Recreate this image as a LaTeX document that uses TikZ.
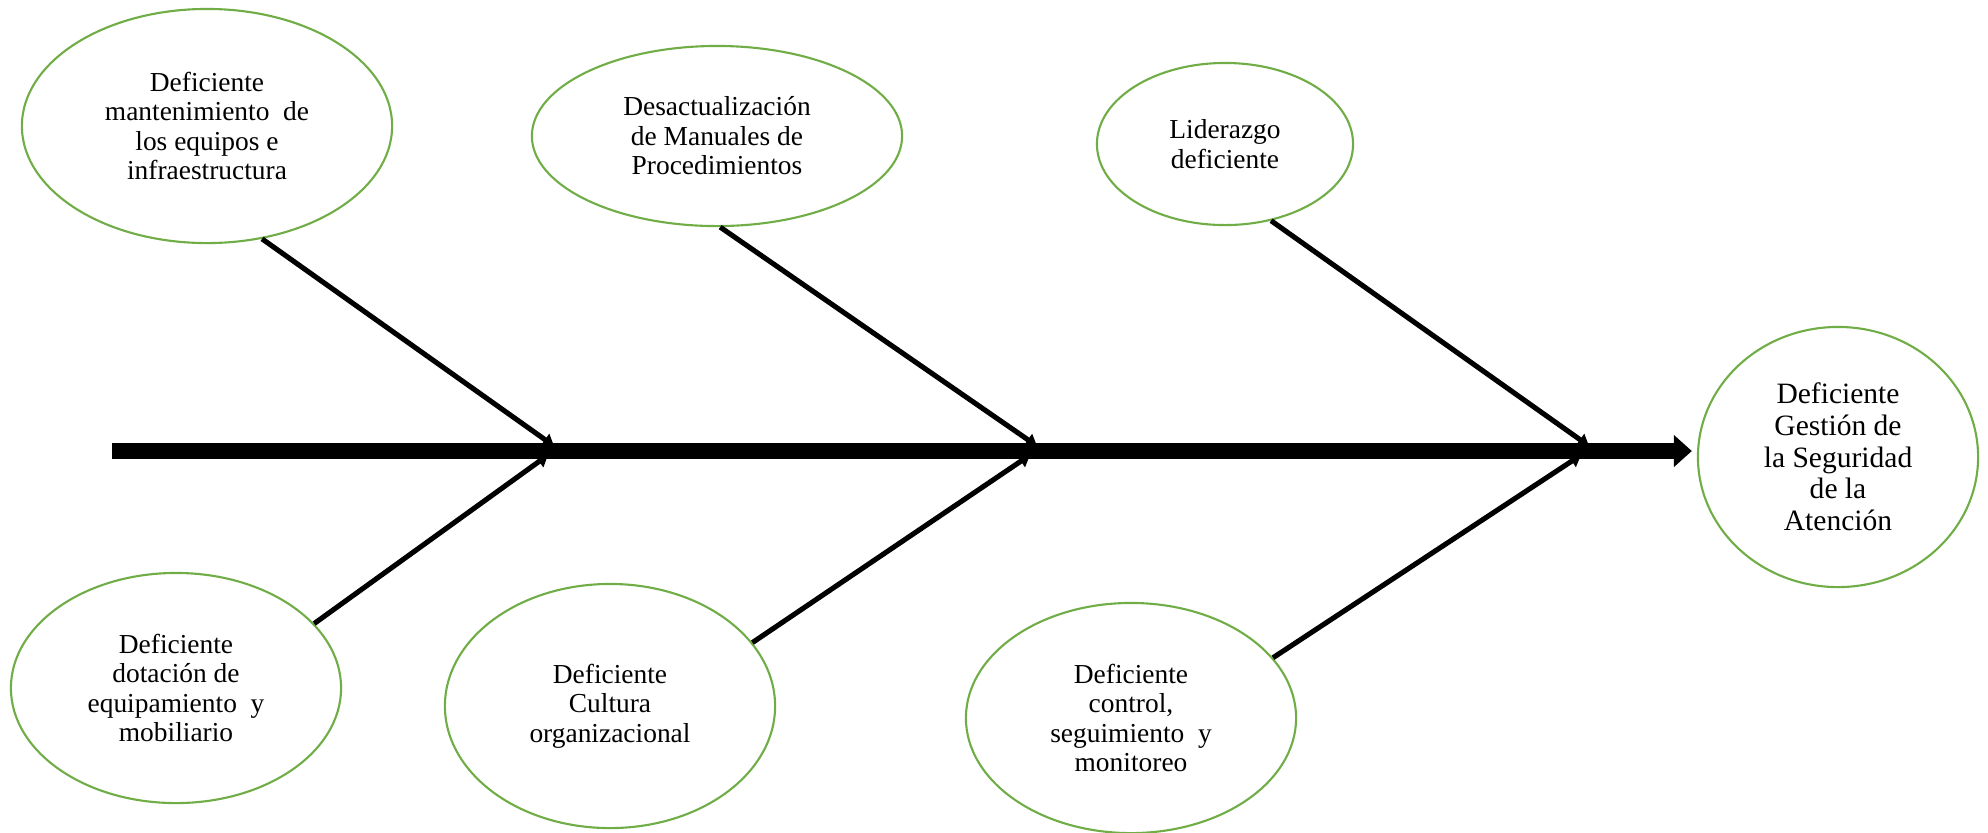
\documentclass[tikz,border=0pt]{standalone}
\usepackage{fontspec}
\setmainfont{Liberation Serif}
\usepackage{tikz}
\usetikzlibrary{shapes.geometric, arrows.meta}

\definecolor{causegreen}{RGB}{112,173,71}

\tikzset{
    cause/.style={ellipse, draw=causegreen, line width=0.6pt, inner sep=0pt,
        align=center, font=\fontsize{7.8}{8.4}\selectfont},
    bone/.style={line width=1.45pt, -{Triangle[length=0.11cm, width=0.14cm]}},
    spine/.style={line width=0.16cm, -{Triangle[length=0.18cm, width=0.31cm]}}
}

\begin{document}
\begin{tikzpicture}[x=0.01cm, y=-0.01cm]
    \useasboundingbox (0, 0) rectangle (1988, 832);

    % Causes above the spine
    \node[cause, minimum width=3.7cm, minimum height=2.34cm] (equipos) at (207, 126)
        {Deficiente\\mantenimiento~ de\\los equipos e\\infraestructura};
    \node[cause, minimum width=3.7cm, minimum height=1.8cm] (manuales) at (717, 136)
        {Desactualización\\de Manuales de\\Procedimientos};
    \node[cause, minimum width=2.56cm, minimum height=1.62cm] (liderazgo) at (1225, 144)
        {Liderazgo\\deficiente};

    % Causes below the spine
    \node[cause, minimum width=3.3cm, minimum height=2.3cm] (dotacion) at (176, 688)
        {Deficiente\\dotación de\\equipamiento~ y\\mobiliario};
    \node[cause, minimum width=3.3cm, minimum height=2.44cm] (cultura) at (610, 706)
        {Deficiente\\Cultura\\organizacional};
    \node[cause, minimum width=3.3cm, minimum height=2.3cm] (control) at (1131, 718)
        {Deficiente\\control,\\seguimiento~ y\\monitoreo};

    % Effect
    \node[cause, minimum width=2.8cm, minimum height=2.6cm,
        font=\fontsize{8.4}{9}\selectfont] (efecto) at (1838, 457)
        {Deficiente\\Gestión de\\la Seguridad\\de la\\Atención};

    % Spine (kept horizontal, stops just short of the effect)
    \coordinate (cola) at (112, 451);
    \draw[spine, shorten >=0.05cm] (cola) -- (cola -| efecto.west);

    % Where the bones meet the spine
    \coordinate (t1) at (554, 446);
    \coordinate (t2) at (1037, 446);
    \coordinate (t3) at (1589, 446);
    \coordinate (b1) at (548, 455);
    \coordinate (b2) at (1030, 455);
    \coordinate (b3) at (1581, 455);

    % Bones
    \draw[bone] (equipos.-64) -- (t1);
    \draw[bone] (manuales.-88) -- (t2);
    \draw[bone] (liderazgo.-59) -- (t3);
    \draw[bone] (dotacion.25) -- (b1);
    \draw[bone] (cultura.24) -- (b2);
    \draw[bone] (control.23) -- (b3);
\end{tikzpicture}
\end{document}
